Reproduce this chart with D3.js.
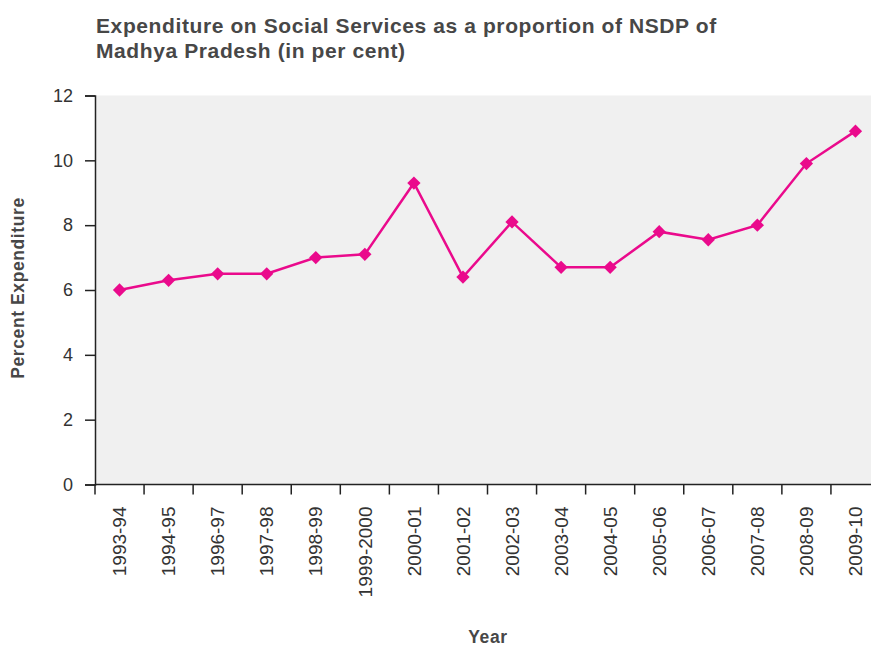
<!DOCTYPE html>
<html>
<head>
<meta charset="utf-8">
<script src="https://cdn.jsdelivr.net/npm/d3@7"></script>
<style>
  body { margin: 0; background: #fff; }
  svg { display: block; font-family: "Liberation Sans", Arial, sans-serif; }
</style>
</head>
<body>
<div id="chart"></div>
<script>
// data
var years = ["1993-94", "1994-95", "1996-97", "1997-98", "1998-99", "1999-2000",
  "2000-01", "2001-02", "2002-03", "2003-04", "2004-05", "2005-06",
  "2006-07", "2007-08", "2008-09", "2009-10"];
var expenditure = [6.0, 6.3, 6.5, 6.5, 7.0, 7.1, 9.3, 6.4, 8.1, 6.7, 6.7, 7.8, 7.55, 8.0, 9.9, 10.9];
var yTicks = [0, 2, 4, 6, 8, 10, 12];

var titleLines = ["Expenditure on Social Services as a proportion of NSDP of",
  "Madhya Pradesh (in per cent)"];

// setup dimensions
var margin = {top: 95.5, left: 95},
  width = 785,
  height = 389;

var svg = d3.select("#chart").append("svg")
  .attr("width", 871)
  .attr("height", 646);

var g = svg.append("g")
  .attr("transform", "translate(" + margin.left + "," + margin.top + ")");

var x = d3.scaleBand()
  .domain(years)
  .range([0, width]);

var y = d3.scaleLinear()
  .domain([0, 12])
  .range([height, 0]);

// plot background
g.append("rect")
  .attr("width", width)
  .attr("height", height)
  .attr("fill", "#f0f0f0");

// title
svg.append("g").selectAll("text")
  .data(titleLines)
  .enter().append("text")
  .attr("x", 96)
  .attr("y", function(d, i) { return 33 + i * 25; })
  .attr("font-size", 21)
  .attr("letter-spacing", 0.6)
  .attr("font-weight", "bold")
  .attr("fill", "#474747")
  .text(function(d) { return d; });

// y axis
var yAxis = g.append("g")
  .call(d3.axisLeft(y).tickValues(yTicks).tickSize(10).tickPadding(12));
yAxis.select(".domain").attr("stroke", "#222").attr("stroke-width", 1.5);
yAxis.selectAll(".tick line").attr("stroke", "#222").attr("stroke-width", 1.5);
yAxis.selectAll("text").attr("font-size", 18).attr("fill", "#333")
  .attr("font-family", "Liberation Sans, Arial, sans-serif");

// x axis: ticks at band edges, labels at band centres
var xAxis = g.append("g")
  .attr("transform", "translate(0," + height + ")");
xAxis.append("line")
  .attr("x1", 0).attr("x2", width)
  .attr("stroke", "#222").attr("stroke-width", 1.5);
xAxis.selectAll("line.tk")
  .data(years)
  .enter().append("line")
  .attr("class", "tk")
  .attr("x1", function(d) { return x(d); })
  .attr("x2", function(d) { return x(d); })
  .attr("y1", 0).attr("y2", 10)
  .attr("stroke", "#222").attr("stroke-width", 1.5);
xAxis.selectAll("text")
  .data(years)
  .enter().append("text")
  .attr("transform", function(d) {
    return "translate(" + (x(d) + x.bandwidth() / 2) + ",22) rotate(-90)";
  })
  .attr("dy", "0.35em")
  .attr("text-anchor", "end")
  .attr("font-size", 19)
  .attr("fill", "#333")
  .text(function(d) { return d; });

// axis titles
svg.append("text")
  .attr("transform", "translate(24,288) rotate(-90)")
  .attr("text-anchor", "middle")
  .attr("font-size", 17.5)
  .attr("letter-spacing", 0.6)
  .attr("font-weight", "bold")
  .attr("fill", "#474747")
  .text("Percent Expenditure");

svg.append("text")
  .attr("x", 488)
  .attr("y", 643)
  .attr("text-anchor", "middle")
  .attr("font-size", 17.5)
  .attr("letter-spacing", 0.6)
  .attr("font-weight", "bold")
  .attr("fill", "#474747")
  .text("Year");

// line + markers
var valueline = d3.line()
  .x(function(d, i) { return x(years[i]) + x.bandwidth() / 2; })
  .y(function(d) { return y(d); });

g.append("path")
  .datum(expenditure)
  .attr("fill", "none")
  .attr("stroke", "#ea0a8c")
  .attr("stroke-width", 2.5)
  .attr("d", valueline);

g.selectAll("path.marker")
  .data(expenditure)
  .enter().append("path")
  .attr("class", "marker")
  .attr("d", d3.symbol().type(d3.symbolSquare).size(88))
  .attr("transform", function(d, i) {
    return "translate(" + (x(years[i]) + x.bandwidth() / 2) + "," + y(d) + ") rotate(45)";
  })
  .attr("fill", "#ea0a8c");
</script>
</body>
</html>
